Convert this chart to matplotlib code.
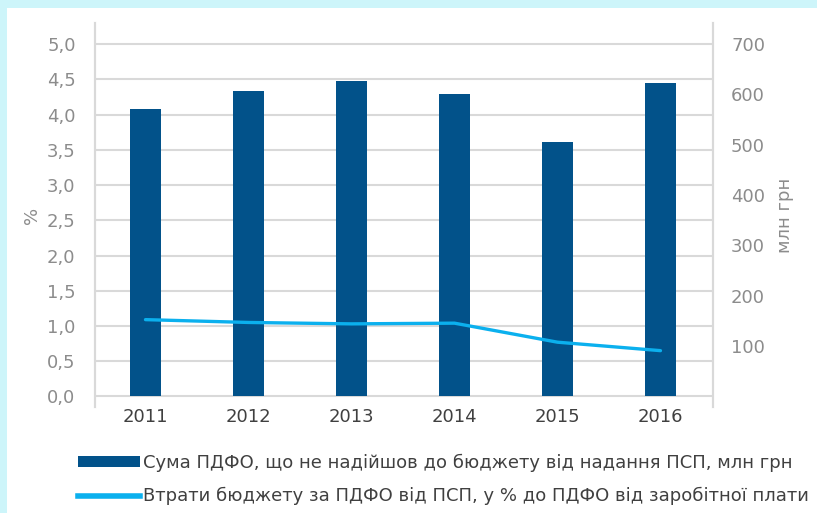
import matplotlib
matplotlib.use("Agg")
import matplotlib.pyplot as plt
from matplotlib.patches import Rectangle
from matplotlib.lines import Line2D
import numpy as np

# data
years = ["2011", "2012", "2013", "2014", "2015", "2016"]
sum_mln = [572, 606, 626, 601, 505, 623]          # bars, млн грн (right axis)
loss_pct = [1.09, 1.05, 1.03, 1.04, 0.77, 0.65]   # line, % (left axis)
left_ticks = [0, 0.5, 1.0, 1.5, 2.0, 2.5, 3.0, 3.5, 4.0, 4.5, 5.0]
right_ticks = [100, 200, 300, 400, 500, 600, 700]

bar_label = "Сума ПДФО, що не надійшов до бюджету від надання ПСП, млн грн"
line_label = "Втрати бюджету за ПДФО від ПСП, у % до ПДФО від заробітної плати"

plt.rcParams['font.family'] = ['DejaVu Sans']

bar_color = "#02528a"
line_color = "#0bb0ee"
tick_color = "#8c8c8c"
grid_color = "#d9d9d9"

fig = plt.figure(figsize=(8.17, 5.13), dpi=100)
fig.patch.set_facecolor("#cdf5fa")
fig.add_artist(Rectangle((7 / 817, 0), 1, 1 - 8 / 513, transform=fig.transFigure,
                         facecolor="white", edgecolor="none", zorder=0))

ax = fig.add_axes([0.1163, 0.2066, 0.7564, 0.7486])
ax2 = ax.twinx()

x = np.arange(len(years))
scale = 140.0  # 1 % on left == 140 млн грн on right

ax.set_xlim(-0.49, 5.51)
ax.set_ylim(-0.15, 5.3)
ax2.set_ylim(-0.15 * scale, 5.3 * scale)

# gridlines on the back axes
for t in left_ticks:
    ax.axhline(t, color=grid_color, lw=1.5, zorder=0)

ax2.bar(x, sum_mln, width=0.31, color=bar_color, zorder=2)
ax2.plot(x, loss_pct, color=line_color, lw=2.4, zorder=3,
         solid_capstyle="round", transform=ax.transData)

ax.set_yticks(left_ticks)
ax.set_yticklabels([f"{t:.1f}".replace(".", ",") for t in left_ticks])
ax2.set_yticks(right_ticks)
ax2.set_yticklabels([str(t) for t in right_ticks])
ax.set_xticks(x)
ax.set_xticklabels(years)

ax.tick_params(axis="y", length=0, pad=14, labelsize=13, labelcolor=tick_color)
ax2.tick_params(axis="y", length=0, pad=13, labelsize=13, labelcolor=tick_color)
ax.tick_params(axis="x", length=0, pad=1, labelsize=13, labelcolor="#404040")

for a in (ax, ax2):
    for s in ("top", "bottom"):
        a.spines[s].set_visible(False)
    a.spines["left"].set_color(grid_color)
    a.spines["right"].set_color(grid_color)
    a.spines["left"].set_linewidth(1.5)
    a.spines["right"].set_linewidth(1.5)

ax.set_ylabel("%", color=tick_color, fontsize=13, labelpad=4)
ax2.set_ylabel("млн грн", color=tick_color, fontsize=13, labelpad=8, rotation=90)

handles = [Rectangle((0, 0), 1, 1, facecolor=bar_color, edgecolor="none"),
           Line2D([0], [0], color=line_color, lw=4)]
leg = fig.legend(handles, [bar_label, line_label], loc="upper left",
                 bbox_to_anchor=(0.087, 0.13), frameon=False, fontsize=13,
                 handlelength=3.4, handleheight=0.5, handletextpad=0.2,
                 labelspacing=0.85, labelcolor="#404040", borderaxespad=0)

fig.savefig("out.png", dpi=100, facecolor=fig.get_facecolor())
